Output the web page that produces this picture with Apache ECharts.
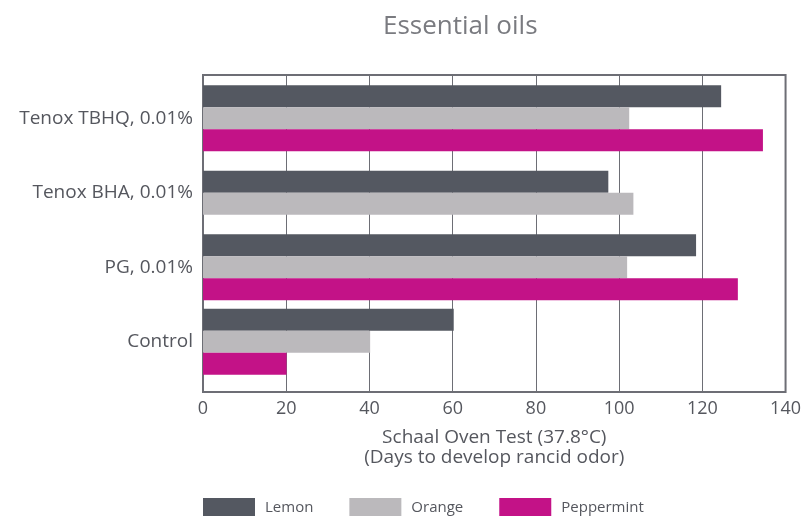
<!DOCTYPE html>
<html>
<head>
<meta charset="utf-8">
<script src="https://cdn.jsdelivr.net/npm/echarts@6/dist/echarts.min.js"></script>
<style>
  html, body { margin: 0; padding: 0; background: #fff; }
  #oils-chart { width: 804px; height: 516px; }
</style>
</head>
<body>
<div id="oils-chart"></div>
<script>
// values (days)
const categories = ['Tenox TBHQ, 0.01%', 'Tenox BHA, 0.01%', 'PG, 0.01%', 'Control'];
const seriesNames = ['Lemon', 'Orange', 'Peppermint'];
const lemon = [124, 97, 118, 60];
const orange = [102, 103, 101.5, 40];
const peppermint = [134, null, 128, 20];
const xTicks = [0, 20, 40, 60, 80, 100, 120, 140];

const colors = ['#545861', '#bbb9bc', '#c31287'];
const textColor = '#55575e';
const lineColor = '#6d6e75';
const font = 'Open Sans';

let values = [lemon, orange, peppermint];

// categories where one series has no value get their own axis so the remaining bars stay centred
let short = categories.map((c, i) => values.some(v => v[i] == null));

let series = [];
values.forEach((vals, s) => {
  series.push({
    name: seriesNames[s],
    type: 'bar',
    xAxisIndex: 1,
    yAxisIndex: 1,
    barWidth: 22,
    barGap: '0%',
    itemStyle: { color: colors[s] },
    data: vals.map((v, i) => short[i] ? null : v)
  });
  if (vals.some((v, i) => short[i] && v != null)) {
    series.push({
      name: seriesNames[s],
      type: 'bar',
      xAxisIndex: 1,
      yAxisIndex: 2,
      barWidth: 22,
      barGap: '0%',
      itemStyle: { color: colors[s] },
      data: vals.map((v, i) => short[i] ? v : null)
    });
  }
});

let option = {
  animation: false,
  textStyle: { fontFamily: font },
  title: {
    text: 'Essential oils',
    left: 378,
    top: 9,
    textStyle: { fontFamily: font, fontSize: 26, fontWeight: 'normal', color: '#7a7b80' }
  },
  legend: {
    data: seriesNames,
    left: 198,
    top: 493,
    icon: 'rect',
    itemWidth: 52,
    itemHeight: 20,
    itemGap: 36,
    textStyle: { fontFamily: font, fontSize: 15, color: textColor, padding: [0, 0, 0, 5] }
  },
  grid: [
    // frame, gridlines and x axis
    { left: 203, right: 16, top: 75, height: 317, show: true, borderColor: lineColor, borderWidth: 2, backgroundColor: 'transparent' },
    // bars and category labels
    { left: 203, right: 16, top: 81, height: 298 }
  ],
  xAxis: [
    {
      gridIndex: 0,
      type: 'value',
      min: xTicks[0],
      max: xTicks[xTicks.length - 1],
      interval: xTicks[1] - xTicks[0],
      axisLine: { show: false },
      axisTick: { show: false },
      splitLine: { show: true, lineStyle: { color: lineColor, width: 1 } },
      axisLabel: { color: textColor, fontSize: 18, margin: 8 },
      name: 'Schaal Oven Test (37.8°C)\n(Days to develop rancid odor)',
      nameLocation: 'middle',
      nameGap: 36,
      nameTextStyle: { color: textColor, fontSize: 19, lineHeight: 20 }
    },
    {
      gridIndex: 1,
      type: 'value',
      min: xTicks[0],
      max: xTicks[xTicks.length - 1],
      show: false
    }
  ],
  yAxis: [
    { gridIndex: 0, type: 'value', min: 0, max: 1, show: false },
    {
      gridIndex: 1,
      type: 'category',
      data: categories,
      inverse: true,
      axisLine: { show: false },
      axisTick: { show: false },
      axisLabel: { color: textColor, fontSize: 19, margin: 10 }
    },
    { gridIndex: 1, type: 'category', data: categories, inverse: true, show: false }
  ],
  series: series
};

const chartDom = document.getElementById('oils-chart');
let myChart = echarts.init(chartDom);
myChart.setOption(option);
</script>
</body>
</html>
